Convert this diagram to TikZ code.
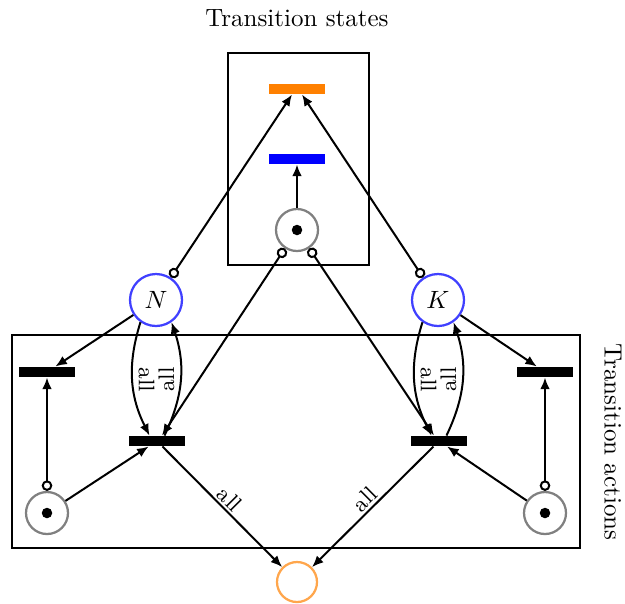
\documentclass[tikz,border=0pt]{standalone}
\usepackage{amsmath,amssymb}
\usepackage{xcolor}
\usepackage{tikz}
\usetikzlibrary{arrows.meta,positioning,calc}

\begin{document}
\begin{tikzpicture}[
    x=0.4pt, y=-0.4pt,
    trans/.style={rectangle, fill=black, minimum width=22.4pt, minimum height=4pt, inner sep=0pt},
    place/.style={circle, draw=gray, line width=0.9pt, minimum size=16.8pt, inner sep=0pt},
    res/.style={circle, draw=blue!75, line width=0.9pt, minimum size=20.8pt, inner sep=0pt},
    token/.style={circle, fill=black, minimum size=4.2pt, inner sep=0pt},
    arc/.style={-{Latex[length=4.6pt,width=3.8pt]}, thick},
    readarc/.style={{Circle[open,length=4.2pt,width=4.2pt]}-{Latex[length=4.6pt,width=3.8pt]}, thick},
    group/.style={draw, thick},
    lbl/.style={font=\small, inner sep=2pt}
]
\useasboundingbox (0,0) rectangle (625,603);

% Transition states
\draw[group] (228,53) rectangle (369,265);
\node at (297,18) {Transition states};
\node[trans, fill=orange] (ob) at (297,89) {};
\node[trans, fill=blue] (bb) at (297,159) {};
\node[place] (tp) at (297,230) {};
\node[token] at (tp) {};

% Resources
\node[res] (N) at (156,300) {$N$};
\node[res] (K) at (438,300) {$K$};

% Transition actions
\draw[group] (12,335) rectangle (580,548);
\node[rotate=-90] at (613,442) {Transition actions};
\node[trans] (lb) at (47,372) {};
\node[trans] (lc) at (157,441) {};
\node[trans] (rc) at (439,441) {};
\node[trans] (rb) at (545,372) {};
\node[place] (lp) at (47,513) {};
\node[token] at (lp) {};
\node[place] (rp) at (545,513) {};
\node[token] at (rp) {};

% Output
\node[circle, draw=orange!70, line width=0.9pt, minimum size=16pt, inner sep=0pt] (out) at (297,582) {};

% Arcs of the states
\draw[arc] (tp) -- (bb);
\draw[readarc] (N) -- ([xshift=-2pt]ob.south);
\draw[readarc] (K) -- ([xshift=2pt]ob.south);
\draw[readarc] (tp) -- ([xshift=2pt]lc.north);
\draw[readarc] (tp) -- ([xshift=-2pt]rc.north);

% Arcs of the actions
\draw[arc] (N) -- (lb);
\draw[arc] (K) -- (rb);
\draw[arc] (N.235) to[bend right=22] node[lbl, rotate=-90, anchor=south] {all} ([xshift=-3pt]lc.north);
\draw[arc] ([xshift=3pt]lc.north) to[bend right=22] node[lbl, rotate=90, anchor=south] {all} (N.305);
\draw[arc] (K.235) to[bend right=22] node[lbl, rotate=-90, anchor=south] {all} ([xshift=-3pt]rc.north);
\draw[arc] ([xshift=3pt]rc.north) to[bend right=22] node[lbl, rotate=90, anchor=south] {all} (K.305);
\draw[readarc] (lp) -- (lb);
\draw[readarc] (rp) -- (rb);
\draw[arc] (lp) -- (lc);
\draw[arc] (rp) -- (rc);
\draw[arc] (lc) -- node[lbl, sloped, above, inner sep=0.8pt, pos=0.5] {all} (out);
\draw[arc] (rc) -- node[lbl, sloped, above, inner sep=0.8pt, pos=0.5] {all} (out);

\end{tikzpicture}
\end{document}
